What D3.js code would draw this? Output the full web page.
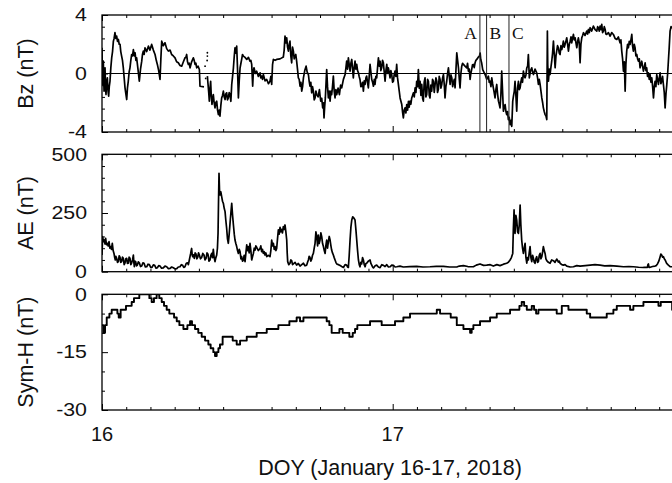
<!DOCTYPE html>
<html>
<head>
<meta charset="utf-8">
<script src="https://cdn.jsdelivr.net/npm/d3@7"></script>
<style>
  body { margin: 0; background: #fff; }
  svg { display: block; }
  text { font-family: "Liberation Sans", Arial, Helvetica, sans-serif; fill: #111; }
</style>
</head>
<body>
<svg id="chart" width="672" height="483"></svg>
<script>
// ---- Samples: [hours after 2018-01-16 00:00 UT, value in nT] ----
const bzSamples = [
  [0.00,1.76],[0.03,0.20],[0.06,-0.75],[0.08,0.50],[0.11,0.84],[0.14,-0.40],[0.17,-1.21],[0.21,0.10],[0.25,0.39],[0.29,-0.90],
  [0.33,-1.44],[0.38,-0.60],[0.44,-0.30],[0.50,-1.20],[0.55,-1.55],[0.60,-0.90],[0.66,-0.53],[0.73,0.40],[0.80,1.07],[0.87,1.50],
  [0.94,2.21],[1.00,2.40],[1.07,2.79],[1.14,2.40],[1.21,2.56],[1.28,2.20],[1.35,2.33],[1.42,2.00],[1.49,1.99],[1.55,1.50],
  [1.62,1.19],[1.69,0.90],[1.76,0.39],[1.83,-0.30],[1.90,-0.98],[1.97,-1.40],[2.04,-1.78],[2.10,-1.00],[2.17,-0.53],[2.24,0.10],
  [2.31,0.39],[2.38,0.90],[2.45,1.30],[2.52,1.20],[2.59,1.64],[2.66,1.20],[2.73,1.42],[2.80,0.90],[2.86,1.07],[2.97,0.30],
  [3.08,-0.53],[3.18,0.30],[3.28,0.84],[3.34,1.30],[3.41,1.53],[3.48,1.30],[3.55,1.76],[3.69,1.50],[3.83,1.87],[3.96,1.60],
  [4.10,1.99],[4.24,1.60],[4.38,1.30],[4.48,0.90],[4.57,0.62],[4.68,0.20],[4.79,-0.41],[4.86,1.00],[4.93,2.21],[5.06,1.90],
  [5.20,2.10],[5.34,1.70],[5.48,1.53],[5.62,1.60],[5.75,1.30],[5.89,1.20],[6.03,1.07],[6.16,0.80],[6.30,0.73],[6.44,0.55],
  [6.58,0.50],[6.72,0.80],[6.85,1.07],[6.92,1.10],[6.99,1.30],[7.06,0.80],[7.13,0.62],[7.20,0.70],[7.27,0.39],[7.40,0.80],
  [7.54,1.07],[7.61,0.90],[7.68,0.62],[7.75,0.70],[7.82,0.39],[7.93,0.50],[8.04,0.27],[8.09,-0.87],[8.42,-0.91],[8.50,null],
  [8.70,-0.18],[8.74,-0.60],[8.78,-0.98],[8.82,-1.40],[8.86,-1.89],[8.92,-1.00],[8.97,-0.53],[9.02,-1.50],[9.08,-2.12],[9.14,-1.70],
  [9.19,-1.44],[9.26,-2.00],[9.33,-2.35],[9.40,-2.00],[9.47,-1.89],[9.54,-2.50],[9.61,-2.81],[9.68,-2.50],[9.74,-2.92],[9.81,-2.20],
  [9.88,-1.67],[9.95,-1.50],[10.02,-1.21],[10.09,-1.60],[10.16,-1.78],[10.22,-1.40],[10.29,-1.32],[10.36,-1.80],[10.43,-1.67],[10.50,-1.30],
  [10.57,-1.44],[10.64,-1.90],[10.71,-0.75],[10.78,-0.20],[10.85,0.39],[10.92,1.20],[10.98,1.76],[11.05,1.40],[11.12,1.87],[11.19,0.30],
  [11.26,-1.67],[11.33,-0.50],[11.40,0.39],[11.47,0.70],[11.53,0.96],[11.60,1.30],[11.67,1.19],[11.81,1.10],[11.95,0.96],[12.09,1.10],
  [12.22,0.84],[12.29,0.90],[12.36,0.62],[12.44,-0.87],[12.50,0.20],[12.55,0.39],[12.66,0.00],[12.77,0.16],[12.91,-0.20],[13.05,0.05],
  [13.11,-0.30],[13.18,-0.18],[13.25,-0.40],[13.32,-0.07],[13.46,-0.50],[13.60,-0.41],[13.74,-0.70],[13.87,-0.53],[13.94,-0.20],[14.01,-0.75],
  [14.08,0.60],[14.15,0.96],[14.29,0.90],[14.42,0.96],[14.70,1.00],[14.97,1.12],[15.04,1.60],[15.11,2.56],[15.18,2.10],[15.25,2.44],
  [15.32,1.80],[15.39,1.53],[15.46,2.00],[15.52,2.21],[15.59,1.20],[15.66,0.73],[15.73,1.80],[15.80,1.53],[15.87,1.00],[15.94,1.19],
  [16.00,1.30],[16.07,0.84],[16.14,0.30],[16.21,-0.30],[16.28,-0.40],[16.35,-0.87],[16.42,-0.60],[16.49,-1.21],[16.56,-0.90],[16.63,-0.30],
  [16.74,0.20],[16.85,0.50],[16.94,0.10],[17.04,-0.07],[17.10,-0.50],[17.17,-0.87],[17.24,-0.60],[17.31,-1.32],[17.38,-0.90],[17.45,-1.21],
  [17.52,-1.80],[17.59,-1.67],[17.66,-1.20],[17.73,-1.44],[17.84,-1.60],[17.95,-1.10],[18.00,-1.50],[18.06,-1.89],[18.14,-1.70],[18.22,-2.35],
  [18.28,-2.00],[18.33,-3.04],[18.38,-2.30],[18.44,-1.67],[18.50,-0.60],[18.55,0.27],[18.62,-0.90],[18.69,-1.67],[18.76,-1.20],[18.83,-1.89],
  [18.90,-1.20],[18.96,-1.44],[19.03,-0.90],[19.10,-0.18],[19.17,-1.20],[19.24,-1.67],[19.31,-1.10],[19.38,-1.44],[19.49,-1.00],[19.60,-1.44],
  [19.70,-0.80],[19.79,-0.98],[19.93,-0.40],[20.07,-0.07],[20.14,0.40],[20.20,0.84],[20.27,0.30],[20.34,1.07],[20.41,0.60],[20.48,0.16],
  [20.55,0.70],[20.62,0.96],[20.69,0.30],[20.75,-0.30],[20.82,0.40],[20.89,0.84],[20.96,0.30],[21.03,0.62],[21.10,0.20],[21.17,0.05],
  [21.23,-0.20],[21.30,-0.41],[21.37,-0.90],[21.44,-0.87],[21.51,-0.60],[21.58,-1.21],[21.65,-0.50],[21.72,-0.75],[21.79,-0.30],[21.85,-0.18],
  [21.92,-0.60],[21.99,-0.98],[22.06,-0.20],[22.13,0.62],[22.20,0.10],[22.27,-0.41],[22.34,-0.60],[22.41,-0.87],[22.48,-0.40],[22.54,-0.75],
  [22.61,-0.20],[22.68,-0.30],[22.75,0.40],[22.82,1.07],[22.89,0.50],[22.96,0.84],[23.02,0.20],[23.09,0.39],[23.16,0.90],[23.23,0.73],
  [23.30,0.10],[23.37,-0.53],[23.44,0.20],[23.51,0.62],[23.58,0.00],[23.64,0.39],[23.71,0.10],[23.78,-0.30],[23.85,0.20],[23.92,-0.07],
  [23.99,-0.60],[24.06,-0.53],[24.12,-0.10],[24.19,0.16],[24.26,-0.20],[24.33,0.62],[24.40,-0.30],[24.47,-0.75],[24.54,-1.20],[24.61,-1.67],
  [24.68,-1.90],[24.75,-2.12],[24.81,-2.60],[24.88,-3.04],[24.95,-2.50],[25.02,-2.35],[25.09,-2.70],[25.16,-2.12],[25.23,-2.50],[25.30,-1.90],
  [25.36,-2.30],[25.43,-1.89],[25.50,-2.10],[25.57,-1.67],[25.64,-1.50],[25.71,-1.32],[25.78,-1.60],[25.85,-0.98],[25.92,-1.30],[25.98,-0.53],
  [26.05,-0.90],[26.12,0.27],[26.19,-1.00],[26.26,-0.53],[26.33,-1.50],[26.40,-0.75],[26.47,-1.70],[26.53,-1.89],[26.60,-0.60],[26.67,-0.30],
  [26.74,-1.60],[26.81,-1.44],[26.88,-0.40],[26.95,-0.53],[27.02,-1.50],[27.08,-1.67],[27.15,-0.80],[27.22,-1.21],[27.29,-0.40],[27.36,-0.53],
  [27.43,-1.30],[27.50,-0.75],[27.57,-0.30],[27.64,-0.53],[27.70,-1.30],[27.77,-1.10],[27.84,-0.20],[27.91,-0.41],[27.98,-1.00],[28.05,-0.75],
  [28.12,-0.30],[28.19,-0.07],[28.26,-0.80],[28.32,-1.67],[28.39,-0.90],[28.46,-0.53],[28.53,0.00],[28.60,0.39],[28.67,-0.20],[28.74,-0.75],
  [28.81,-0.10],[28.88,-0.30],[28.95,-0.90],[29.01,-0.64],[29.08,-0.40],[29.15,-0.98],[29.22,0.20],[29.29,1.42],[29.36,0.90],[29.43,0.39],
  [29.50,-0.40],[29.56,-0.98],[29.63,0.00],[29.70,0.50],[29.77,0.70],[29.84,0.62],[29.97,0.50],[30.11,0.39],[30.18,0.70],[30.25,0.16],
  [30.32,0.30],[30.39,-0.41],[30.45,0.00],[30.52,0.27],[30.59,0.60],[30.66,0.62],[30.73,0.40],[30.80,0.73],[30.87,0.90],[30.94,0.96],
  [31.05,1.10],[31.16,1.19],[31.22,1.40],[31.27,0.96],[31.35,0.70],[31.43,0.27],[31.53,0.10],[31.63,-0.07],[31.76,-0.40],[31.90,-0.18],
  [31.97,-0.60],[32.04,-0.53],[32.11,-0.90],[32.18,-0.30],[32.25,-0.70],[32.31,-0.98],[32.38,-1.30],[32.45,-1.67],[32.52,-1.10],[32.59,-0.75],
  [32.66,-1.40],[32.73,-1.89],[32.80,-2.10],[32.86,-2.35],[32.93,-1.50],[33.00,0.16],[33.07,-1.20],[33.14,-2.58],[33.21,-2.30],[33.28,-2.12],
  [33.35,-2.60],[33.41,-2.81],[33.48,-2.60],[33.55,-3.15],[33.62,-3.00],[33.69,-3.49],[33.76,-3.20],[33.83,-3.61],[33.91,-1.89],[33.97,-1.55],
  [34.04,-1.20],[34.10,-0.53],[34.17,-1.50],[34.24,-2.58],[34.31,-1.00],[34.38,-0.53],[34.45,-1.10],[34.52,-0.98],[34.58,-0.60],[34.65,-0.30],
  [34.72,-0.60],[34.79,0.16],[34.86,-0.20],[34.93,-0.30],[35.00,-0.10],[35.07,0.39],[35.14,0.50],[35.20,1.30],[35.28,-0.30],[35.38,0.20],
  [35.48,0.39],[35.55,0.10],[35.62,-0.07],[35.75,0.30],[35.89,0.05],[35.96,-0.30],[36.03,-0.75],[36.10,-0.40],[36.17,-0.75],[36.24,-1.20],
  [36.31,-1.67],[36.38,-2.00],[36.44,-2.35],[36.51,-2.60],[36.58,-2.81],[36.65,-2.90],[36.72,-3.15],[36.77,2.90],[36.80,0.60],[36.86,-0.53],
  [36.93,0.30],[36.99,-0.07],[37.06,0.40],[37.13,0.84],[37.20,1.40],[37.27,2.21],[37.34,1.30],[37.41,0.39],[37.48,1.20],[37.54,1.53],
  [37.61,1.90],[37.68,1.76],[37.75,1.40],[37.82,1.30],[37.89,1.90],[37.96,1.64],[38.03,1.90],[38.09,2.21],[38.16,1.80],[38.23,1.99],
  [38.30,2.20],[38.37,2.44],[38.44,2.00],[38.51,1.53],[38.58,2.00],[38.65,2.21],[38.72,2.50],[38.78,2.10],[38.85,2.40],[38.92,2.67],
  [38.99,2.30],[39.06,2.44],[39.13,2.10],[39.20,1.76],[39.27,2.20],[39.33,2.44],[39.40,2.10],[39.47,0.73],[39.54,2.00],[39.61,2.44],
  [39.68,2.60],[39.75,2.79],[39.88,2.60],[40.02,2.90],[40.09,2.70],[40.16,3.01],[40.23,2.80],[40.30,3.13],[40.43,2.90],[40.57,3.24],
  [40.71,3.00],[40.85,2.90],[40.92,3.20],[40.99,3.13],[41.05,2.90],[41.12,3.24],[41.19,3.00],[41.26,3.36],[41.33,2.80],[41.40,2.90],
  [41.47,3.20],[41.54,3.01],[41.60,2.70],[41.67,2.67],[41.81,2.80],[41.95,2.56],[42.08,2.80],[42.22,2.67],[42.36,2.40],[42.50,2.33],
  [42.63,2.50],[42.77,2.10],[42.84,2.30],[42.91,1.53],[42.98,1.00],[43.05,0.16],[43.12,0.80],[43.19,-1.21],[43.25,0.60],[43.32,1.53],
  [43.39,2.00],[43.46,1.76],[43.53,2.20],[43.60,1.99],[43.67,2.30],[43.74,2.67],[43.80,1.90],[43.87,1.53],[43.94,2.00],[44.01,1.76],
  [44.08,1.20],[44.15,1.30],[44.22,1.00],[44.29,0.84],[44.36,1.00],[44.42,0.39],[44.49,0.60],[44.56,0.84],[44.63,0.50],[44.70,0.16],
  [44.77,0.40],[44.84,0.73],[44.91,0.20],[44.97,0.39],[45.04,-0.20],[45.11,0.05],[45.18,-0.40],[45.25,-0.07],[45.32,-0.60],[45.39,-0.30],
  [45.46,-0.90],[45.53,-1.67],[45.60,-0.90],[45.66,-0.53],[45.73,-0.90],[45.80,-0.07],[45.87,-0.40],[45.94,-0.75],[46.01,-0.30],[46.08,0.05],
  [46.14,-0.70],[46.21,-0.53],[46.28,-0.20],[46.35,-0.75],[46.42,-1.30],[46.49,-2.35],[46.56,-1.40],[46.63,-0.75],[46.70,0.00],[46.76,0.84],
  [46.83,1.80],[46.90,2.90],[46.98,3.20],[47.07,3.13],[47.30,3.00]
];
// isolated Bz samples inside the data gap
const bzDots = [[8.51,0.50],[8.56,-0.34],[8.68,0.89],[8.70,1.19],[8.70,1.42]];

const aeSamples = [
  [0.00,71],[0.05,149],[0.12,128],[0.19,135],[0.25,118],[0.30,142],[0.37,115],[0.44,121],[0.51,110],[0.58,128],
  [0.65,100],[0.72,107],[0.78,95],[0.85,121],[0.92,90],[0.99,78],[1.05,60],[1.10,50],[1.15,65],[1.21,57],
  [1.28,40],[1.35,43],[1.42,68],[1.49,61],[1.55,40],[1.62,43],[1.69,62],[1.76,57],[1.83,30],[1.90,38],
  [1.97,55],[2.04,57],[2.10,35],[2.17,36],[2.24,62],[2.31,57],[2.38,30],[2.45,38],[2.52,50],[2.59,71],
  [2.63,40],[2.67,21],[2.72,45],[2.78,43],[2.85,25],[2.92,28],[3.00,42],[3.08,38],[3.18,22],[3.28,24],
  [3.38,38],[3.47,36],[3.58,20],[3.69,21],[3.80,32],[3.91,30],[4.02,18],[4.13,18],[4.24,29],[4.35,27],
  [4.46,15],[4.57,17],[4.68,26],[4.79,24],[4.92,15],[5.06,16],[5.20,24],[5.34,21],[5.48,13],[5.62,14],
  [5.75,20],[5.89,17],[6.03,12],[6.17,13],[6.30,20],[6.44,21],[6.55,30],[6.66,27],[6.75,18],[6.85,21],
  [6.95,35],[7.05,38],[7.13,30],[7.21,50],[7.27,65],[7.32,78],[7.36,90],[7.40,99],[7.45,70],[7.49,64],
  [7.55,72],[7.62,57],[7.69,80],[7.76,75],[7.83,55],[7.90,61],[7.97,80],[8.04,71],[8.13,55],[8.23,61],
  [8.32,78],[8.42,71],[8.50,50],[8.59,57],[8.67,80],[8.75,74],[8.83,45],[8.92,50],[8.99,70],[9.06,78],
  [9.12,60],[9.19,95],[9.26,60],[9.33,43],[9.40,60],[9.47,71],[9.53,100],[9.58,163],[9.62,300],[9.66,419],
  [9.70,350],[9.74,327],[9.81,340],[9.88,320],[9.95,300],[10.02,291],[10.09,270],[10.16,256],[10.22,220],[10.29,185],
  [10.36,140],[10.43,121],[10.50,160],[10.57,206],[10.64,250],[10.71,291],[10.78,240],[10.85,199],[10.92,160],[10.98,135],
  [11.05,120],[11.12,107],[11.19,90],[11.26,78],[11.33,95],[11.40,85],[11.47,55],[11.53,64],[11.60,45],[11.67,50],
  [11.74,70],[11.81,43],[11.88,80],[11.95,114],[12.02,90],[12.09,107],[12.15,80],[12.22,121],[12.29,90],[12.36,50],
  [12.43,65],[12.50,78],[12.57,100],[12.64,92],[12.70,110],[12.77,104],[12.91,90],[13.05,99],[13.11,110],[13.18,85],
  [13.25,95],[13.32,78],[13.39,85],[13.46,71],[13.53,80],[13.60,64],[13.74,70],[13.87,64],[13.94,90],[14.01,135],
  [14.08,110],[14.15,121],[14.22,95],[14.29,107],[14.36,90],[14.42,99],[14.49,140],[14.56,178],[14.63,160],[14.70,189],
  [14.77,170],[14.84,180],[14.90,165],[14.97,192],[15.04,180],[15.11,199],[15.18,170],[15.25,135],[15.29,80],[15.33,43],
  [15.42,30],[15.52,36],[15.59,50],[15.66,47],[15.73,30],[15.80,33],[15.94,40],[16.07,28],[16.21,35],[16.35,24],
  [16.49,30],[16.63,36],[16.76,25],[16.90,28],[16.97,40],[17.04,50],[17.10,65],[17.17,61],[17.24,45],[17.31,53],
  [17.38,70],[17.45,78],[17.52,100],[17.59,121],[17.66,170],[17.73,149],[17.80,110],[17.86,156],[17.93,120],[18.00,135],
  [18.07,165],[18.14,149],[18.21,120],[18.28,107],[18.35,90],[18.42,78],[18.48,110],[18.55,135],[18.62,100],[18.69,128],
  [18.76,150],[18.83,135],[18.90,110],[18.96,92],[19.03,80],[19.10,71],[19.17,60],[19.24,50],[19.31,40],[19.38,33],
  [19.52,30],[19.65,27],[19.79,22],[19.93,18],[20.07,30],[20.20,28],[20.27,20],[20.34,18],[20.41,70],[20.48,135],
  [20.55,190],[20.62,220],[20.70,234],[20.80,228],[20.89,220],[20.96,180],[21.03,135],[21.10,90],[21.17,50],[21.24,30],
  [21.30,21],[21.37,40],[21.44,33],[21.51,60],[21.58,50],[21.65,30],[21.72,21],[21.79,35],[21.85,36],[21.99,45],
  [22.13,50],[22.20,35],[22.27,28],[22.34,20],[22.41,16],[22.55,25],[22.68,28],[22.82,20],[22.96,17],[23.10,30],
  [23.23,27],[23.37,22],[23.51,30],[23.65,20],[23.78,21],[23.92,28],[24.06,27],[24.20,20],[24.33,21],[24.60,24],
  [24.88,20],[25.40,22],[25.98,23],[26.50,20],[27.08,21],[27.60,23],[28.19,23],[28.70,20],[29.29,20],[29.50,24],
  [29.84,26],[30.20,22],[30.66,21],[30.90,28],[31.21,33],[31.50,27],[31.76,28],[32.05,30],[32.31,24],[32.60,30],
  [32.86,26],[33.15,32],[33.41,36],[33.55,40],[33.69,50],[33.80,60],[33.91,78],[33.96,180],[34.02,263],[34.06,200],
  [34.10,163],[34.17,240],[34.24,220],[34.31,170],[34.38,163],[34.45,200],[34.52,284],[34.58,200],[34.65,135],[34.72,100],
  [34.79,78],[34.86,100],[34.93,121],[35.00,60],[35.07,36],[35.13,60],[35.20,50],[35.27,80],[35.34,107],[35.41,60],
  [35.48,43],[35.55,70],[35.62,57],[35.69,40],[35.75,36],[35.82,55],[35.89,64],[35.96,40],[36.03,43],[36.10,70],
  [36.17,78],[36.24,55],[36.31,64],[36.38,85],[36.44,107],[36.51,90],[36.58,78],[36.65,55],[36.72,47],[36.85,40],
  [36.99,36],[37.13,50],[37.27,47],[37.40,40],[37.54,54],[37.61,48],[37.68,41],[37.75,45],[37.82,36],[37.96,30],
  [38.09,28],[38.23,30],[38.37,24],[38.65,20],[38.92,21],[39.20,26],[39.47,24],[39.90,26],[40.30,28],[40.70,30],
  [41.12,28],[41.50,25],[41.95,26],[42.50,24],[43.05,21],[43.50,22],[43.87,21],[44.30,19],[44.70,18],[45.03,18],
  [45.07,30],[45.11,33],[45.15,20],[45.20,18],[45.45,22],[45.66,24],[45.76,26],[45.86,33],[45.97,45],[46.08,64],
  [46.14,75],[46.21,71],[46.28,62],[46.35,64],[46.42,55],[46.49,50],[46.62,35],[46.76,28],[46.90,22],[47.07,21],
  [47.30,21]
];

const symSamples = [
  [0.00,-8],[0.11,-10],[0.25,-8],[0.39,-6],[0.61,-5],[0.80,-4],[1.07,-4],[1.27,-5],[1.38,-6],[1.54,-4],
  [1.76,-4],[1.98,-3],[2.26,-3],[2.45,-2],[2.64,-1],[2.86,-1],[3.08,0],[3.69,0],[3.91,-1],[4.10,-2],
  [4.29,-1],[4.51,0],[4.73,-1],[4.93,-2],[5.12,-3],[5.34,-4],[5.56,-5],[5.75,-5],[5.95,-6],[6.17,-7],
  [6.39,-8],[6.72,-9],[7.05,-8],[7.27,-7],[7.43,-8],[7.68,-9],[7.95,-10],[8.23,-11],[8.51,-12],[8.78,-13],
  [8.97,-14],[9.19,-15],[9.33,-16],[9.47,-15],[9.61,-14],[9.74,-13],[9.96,-11],[10.24,-11],[10.51,-11],[10.79,-12],
  [11.12,-13],[11.40,-12],[11.67,-12],[11.95,-11],[12.22,-11],[12.50,-11],[12.77,-10],[13.18,-10],[13.46,-10],[13.60,-9],
  [14.01,-9],[14.29,-9],[14.56,-8],[14.97,-8],[15.25,-8],[15.47,-7],[15.80,-7],[16.07,-6],[16.35,-7],[16.63,-6],
  [16.90,-6],[17.73,-6],[18.28,-6],[18.55,-7],[18.77,-8],[18.96,-10],[19.38,-10],[19.60,-9],[19.87,-10],[20.15,-10],
  [20.42,-11],[20.70,-10],[20.89,-9],[21.08,-8],[21.44,-8],[21.72,-8],[22.13,-7],[22.54,-7],[23.09,-8],[23.92,-8],
  [24.19,-7],[24.61,-7],[24.88,-6],[25.16,-6],[25.43,-5],[25.71,-5],[26.81,-5],[27.64,-4],[27.91,-5],[28.60,-5],
  [28.79,-6],[29.01,-6],[29.29,-8],[29.56,-8],[29.84,-9],[30.11,-9],[30.39,-10],[30.52,-9],[30.66,-8],[30.94,-8],
  [31.21,-7],[31.76,-7],[32.04,-6],[32.31,-6],[32.59,-5],[33.14,-5],[33.69,-4],[34.24,-4],[34.46,-3],[34.65,-2],
  [34.85,-3],[35.07,-4],[35.29,-4],[35.48,-3],[35.67,-4],[35.84,-5],[36.03,-4],[37.27,-4],[37.54,-5],[37.76,-5],
  [37.96,-3],[38.31,-3],[38.51,-4],[38.78,-4],[39.61,-4],[40.02,-5],[40.30,-6],[40.57,-6],[40.99,-6],[41.26,-6],
  [41.67,-5],[41.95,-5],[42.22,-4],[42.50,-3],[43.05,-3],[43.60,-4],[43.87,-3],[44.29,-3],[44.70,-2],[44.97,-2],
  [45.66,-2],[45.94,-3],[46.13,-2],[46.49,-2],[46.85,-2],[47.07,-4],[47.30,-4]
];

// ---- Axis ticks and labels ----
const xMajor = [16, 17, 18];
const xLabels = [16, 17];
const xMinorHours = [2,4,6,8,10,14,16,18,20,22,26,28,30,32,34,38,40,42,44,46];
const bzMajor = [-4, 0, 4],    bzMinor = [-3.2,-2.4,-1.6,-0.8,0.8,1.6,2.4,3.2];
const aeMajor = [0, 250, 500], aeMinor = [50,100,150,200,300,350,400,450];
const symMajor = [0, -15, -30], symMinor = [-5,-10,-20,-25];
const eventDoy = [17.300, 17.323, 17.400];
const eventNames = ["A", "B", "C"];

// ---- Drawing ----
const svg = d3.select("#chart");
const X0 = 102, DAY = 290.7;
const x = d3.scaleLinear().domain([16, 18]).range([X0, X0 + 2 * DAY]);
const doy = h => 16 + h / 24;

const panels = [
  { top: 15,    bottom: 132,   domain: [-4, 4],  major: bzMajor,  minor: bzMinor,  title: "Bz (nT)",
    samples: bzSamples,  curve: d3.curveLinear,    width: 1.7 },
  { top: 154.3, bottom: 271.7, domain: [0, 500], major: aeMajor,  minor: aeMinor,  title: "AE (nT)",
    samples: aeSamples,  curve: d3.curveLinear,    width: 1.7 },
  { top: 294.3, bottom: 410,   domain: [-30, 0], major: symMajor, minor: symMinor, title: "Sym-H (nT)",
    samples: symSamples, curve: d3.curveStepAfter, width: 1.9 }
];

const clipW = x(18) - X0;
const xMinor = xMinorHours.map(doy);

panels.forEach((p, i) => {
  const y = d3.scaleLinear().domain(p.domain).range([p.bottom, p.top]);
  const g = svg.append("g");

  g.append("clipPath").attr("id", "clip" + i)
    .append("rect").attr("x", X0).attr("y", p.top).attr("width", clipW).attr("height", p.bottom - p.top);

  // zero reference line for Bz
  if (i === 0) {
    g.append("line").attr("x1", X0).attr("x2", x(18)).attr("y1", y(0)).attr("y2", y(0))
      .attr("stroke", "#000").attr("stroke-width", 1);
  }

  // data trace
  const line = d3.line()
    .defined(d => d[1] !== null)
    .x(d => x(doy(d[0]))).y(d => y(d[1]))
    .curve(p.curve);
  g.append("path").datum(p.samples).attr("clip-path", `url(#clip${i})`)
    .attr("fill", "none").attr("stroke", "#000").attr("stroke-width", p.width)
    .attr("stroke-linejoin", "round").attr("d", line);

  if (i === 0) {
    g.selectAll("circle.dot").data(bzDots).join("circle")
      .attr("cx", d => x(doy(d[0]))).attr("cy", d => y(d[1])).attr("r", 0.9).attr("fill", "#000");

    // event markers A, B, C
    g.selectAll("line.evt").data(eventDoy).join("line")
      .attr("x1", d => x(d)).attr("x2", d => x(d)).attr("y1", p.top).attr("y2", p.bottom)
      .attr("stroke", "#222").attr("stroke-width", 1);
    g.selectAll("text.evt").data(eventDoy).join("text")
      .attr("x", (d, k) => k === 0 ? x(d) - 3 : x(d) + 3)
      .attr("y", 38.5)
      .attr("text-anchor", (d, k) => k === 0 ? "end" : "start")
      .style("font-family", '"Liberation Serif", "Times New Roman", serif')
      .style("font-size", "17.5px")
      .text((d, k) => eventNames[k]);
  }

  // frame
  g.append("rect").attr("x", X0).attr("y", p.top).attr("width", x(18) - X0).attr("height", p.bottom - p.top)
    .attr("fill", "none").attr("stroke", "#000").attr("stroke-width", 1.3);

  // inward ticks on bottom, top and left
  [[d3.axisBottom, p.bottom], [d3.axisTop, p.top]].forEach(([axisFn, yPos]) => {
    [[xMinor, -3], [xMajor, -6]].forEach(([vals, size]) => {
      g.append("g").attr("transform", `translate(0,${yPos})`)
        .call(axisFn(x).tickValues(vals).tickSize(size).tickFormat(""))
        .call(s => s.select(".domain").remove());
    });
  });
  [[p.minor, -3], [p.major, -6]].forEach(([vals, size]) => {
    g.append("g").attr("transform", `translate(${X0},0)`)
      .call(d3.axisLeft(y).tickValues(vals).tickSize(size).tickFormat(""))
      .call(s => s.select(".domain").remove());
  });
  g.selectAll(".tick line").attr("stroke", "#000").attr("stroke-width", 1);

  // y tick labels
  g.selectAll("text.ylab").data(p.major).join("text")
    .attr("transform", d => `translate(87,${y(d)}) scale(1.22,1)`)
    .attr("text-anchor", "end").attr("dy", "0.36em")
    .style("font-size", "17.5px")
    .text(d => d);

  // y axis title
  g.append("text")
    .attr("transform", `translate(33,${(p.top + p.bottom) / 2}) rotate(-90)`)
    .attr("text-anchor", "middle")
    .style("font-size", "21.5px")
    .text(p.title);
});

// x tick labels and title
svg.selectAll("text.xlab").data(xLabels).join("text")
  .attr("x", d => x(d)).attr("y", 441).attr("text-anchor", "middle")
  .style("font-size", "20px").text(d => d);

svg.append("text").attr("x", 390).attr("y", 475).attr("text-anchor", "middle")
  .style("font-size", "21.5px").text("DOY (January 16-17, 2018)");
</script>
</body>
</html>
